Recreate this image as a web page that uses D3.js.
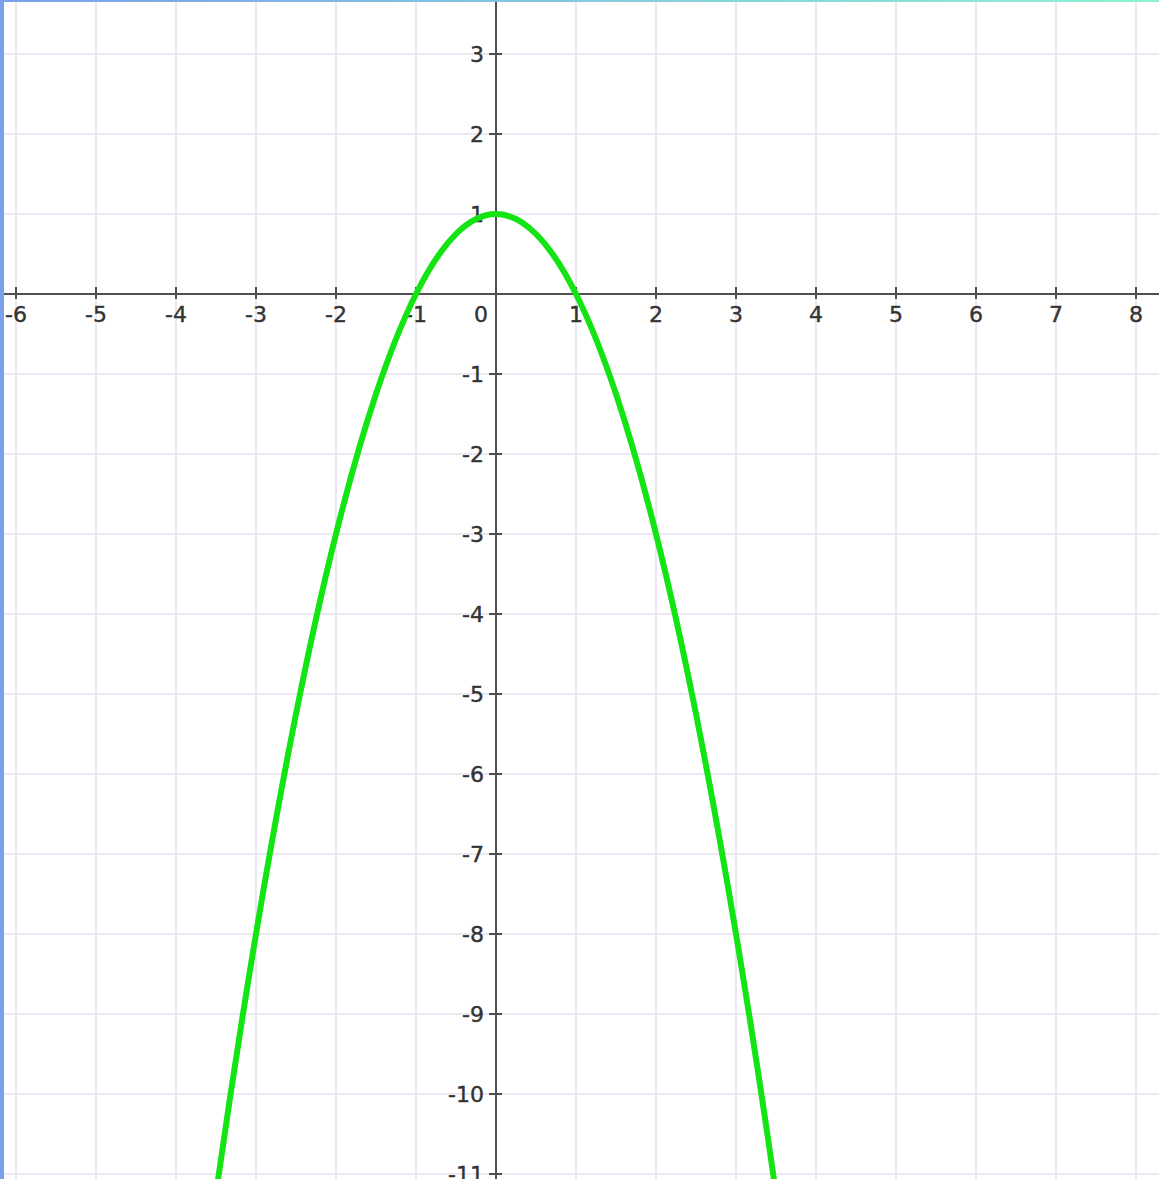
<!DOCTYPE html>
<html>
<head>
<meta charset="utf-8">
<script src="https://cdn.jsdelivr.net/npm/d3@7"></script>
<style>
  html, body { margin: 0; padding: 0; background: #ffffff; }
  svg { display: block; }
</style>
</head>
<body>
<svg id="chart" width="1159" height="1179"></svg>
<script>
// Axis ticks (integer steps)
const xTicks = [-6, -5, -4, -3, -2, -1, 0, 1, 2, 3, 4, 5, 6, 7, 8];
const yTicks = [3, 2, 1, 0, -1, -2, -3, -4, -5, -6, -7, -8, -9, -10, -11];

// Sampled points of the plotted curve
const curveX = [-4, -3.5, -3, -2.5, -2, -1.5, -1, -0.5, 0, 0.5, 1, 1.5, 2, 2.5, 3, 3.5, 4];
const curveY = [-15, -11.25, -8, -5.25, -3, -1.25, 0, 0.75, 1, 0.75, 0, -1.25, -3, -5.25, -8, -11.25, -15];

const W = 1159, H = 1179;
const svg = d3.select("#chart");

const x = d3.scaleLinear().domain([-6, 8]).range([16, 1136]);
const y = d3.scaleLinear().domain([3, -11]).range([54, 1174]);

const x0 = x(0), y0 = y(0);

// Frame gradient along the top edge
const defs = svg.append("defs");
const grad = defs.append("linearGradient").attr("id", "topEdge")
  .attr("x1", "0%").attr("x2", "100%").attr("y1", "0%").attr("y2", "0%");
grad.append("stop").attr("offset", "0%").attr("stop-color", "#7ba0ea");
grad.append("stop").attr("offset", "100%").attr("stop-color", "#8ef2d2");

defs.append("clipPath").attr("id", "plotClip")
  .append("rect").attr("x", 4).attr("y", 2).attr("width", W - 4).attr("height", H - 2);

const plot = svg.append("g").attr("clip-path", "url(#plotClip)");

// Grid
plot.append("g").selectAll("line").data(xTicks).join("line")
  .attr("x1", d => x(d)).attr("x2", d => x(d))
  .attr("y1", 0).attr("y2", H)
  .attr("stroke", "#ebe7f3").attr("stroke-width", 2);
plot.append("g").selectAll("line").data(yTicks).join("line")
  .attr("x1", 0).attr("x2", W)
  .attr("y1", d => y(d)).attr("y2", d => y(d))
  .attr("stroke", "#ebe7f3").attr("stroke-width", 2);

// Axes lines
plot.append("line").attr("x1", 0).attr("x2", W).attr("y1", y0).attr("y2", y0)
  .attr("stroke", "#505050").attr("stroke-width", 2);
plot.append("line").attr("x1", x0).attr("x2", x0).attr("y1", 0).attr("y2", H)
  .attr("stroke", "#505050").attr("stroke-width", 2);

// Tick marks
plot.append("g").selectAll("line").data(xTicks.filter(d => d !== 0)).join("line")
  .attr("x1", d => x(d)).attr("x2", d => x(d))
  .attr("y1", y0 - 7).attr("y2", y0 + 5)
  .attr("stroke", "#505050").attr("stroke-width", 2);
plot.append("g").selectAll("line").data(yTicks.filter(d => d !== 0)).join("line")
  .attr("x1", x0 - 7).attr("x2", x0 + 6)
  .attr("y1", d => y(d)).attr("y2", d => y(d))
  .attr("stroke", "#505050").attr("stroke-width", 2);

const fontFamily = "'DejaVu Sans', Verdana, sans-serif";
const fontSize = 22;

// X tick labels
plot.append("g").selectAll("text").data(xTicks).join("text")
  .attr("x", d => d === 0 ? x0 - 15 : x(d))
  .attr("y", y0 + 28)
  .attr("text-anchor", "middle")
  .attr("font-family", fontFamily).attr("font-size", fontSize)
  .attr("fill", "#333").attr("stroke", "#333").attr("stroke-width", 0.4)
  .text(d => String(d));

// Y tick labels
plot.append("g").selectAll("text").data(yTicks.filter(d => d !== 0)).join("text")
  .attr("x", x0 - 12)
  .attr("y", d => y(d) + 8)
  .attr("text-anchor", "end")
  .attr("font-family", fontFamily).attr("font-size", fontSize)
  .attr("fill", "#333").attr("stroke", "#333").attr("stroke-width", 0.4)
  .text(d => String(d));

// Curve
const pts = curveX.map((v, i) => [v, curveY[i]]);
const line = d3.line().x(d => x(d[0])).y(d => y(d[1])).curve(d3.curveNatural);
plot.append("path").datum(pts)
  .attr("d", line)
  .attr("fill", "none")
  .attr("stroke", "#14e314")
  .attr("stroke-width", 6)
  .attr("stroke-linejoin", "round");

// Frame edges
svg.append("rect").attr("x", 0).attr("y", 0).attr("width", 4).attr("height", H).attr("fill", "#7ba0ea");
svg.append("rect").attr("x", 0).attr("y", 0).attr("width", W).attr("height", 2).attr("fill", "url(#topEdge)");
</script>
</body>
</html>
